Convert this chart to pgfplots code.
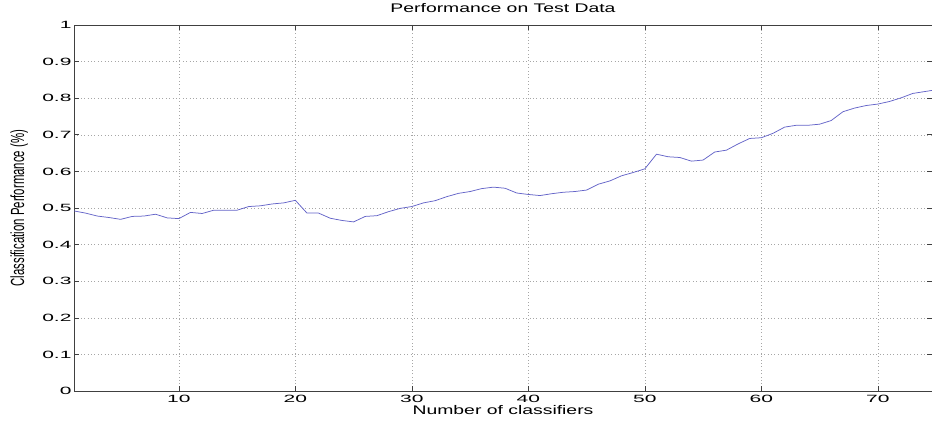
\documentclass[border=0pt]{standalone}
\usepackage{fontspec}
\setmainfont{Liberation Sans}
\newfontfamily\tickfont[FakeStretch=2.0]{Liberation Sans}
\newfontfamily\widefont[FakeStretch=1.55]{Liberation Sans}
\newfontfamily\narrowfont[FakeStretch=0.6]{Liberation Sans}
\usepackage{pgfplots}
\pgfplotsset{compat=1.18}
\definecolor{linecol}{RGB}{100,100,200}
\begin{document}
\begin{tikzpicture}
\begin{axis}[
  scale only axis,
  width=858pt, height=366pt,
  xmin=1, xmax=74.65, ymin=0, ymax=1,
  xtick={10,20,...,70},
  ytick={0,0.1,...,1},
  yticklabels={0,0.1,0.2,0.3,0.4,0.5,0.6,0.7,0.8,0.9,1},
  tick align=inside,
  xtick pos=both, ytick pos=both,
  major tick length=5pt,
  tick style={black!75, line width=0.6pt},
  axis line style={black!75, line width=0.8pt},
  grid=major,
  major grid style={gray!70, line width=0.5pt, dash pattern=on 0.8pt off 2.6pt},
  ticklabel style={font=\tickfont\fontsize{10.5}{12}\selectfont},
  /pgf/number format/assume math mode=true,
  xticklabel style={yshift=-1pt},
  yticklabel style={xshift=1pt},
  title={Performance on Test Data},
  title style={font=\widefont\fontsize{12.5}{14}\selectfont, at={(axis description cs:0.5,1.029)}, anchor=center},
  xlabel={Number of classifiers},
  xlabel style={font=\widefont\fontsize{12.5}{14}\selectfont, at={(axis description cs:0.5,-0.053)}, anchor=center},
  ylabel={Classification Performance (\%)},
  ylabel style={font=\narrowfont\fontsize{19}{21}\selectfont, at={(axis description cs:-0.064,0.5)}, anchor=center},
  clip=true,
]
\addplot[color=linecol, line width=0.75pt, mark=none] coordinates {
(1,0.492) (2,0.486) (3,0.478) (4,0.474) (5,0.469) (6,0.477) (7,0.478) (8,0.483) (9,0.473) (10,0.471)
(11,0.488) (12,0.485) (13,0.494) (14,0.494) (15,0.494) (16,0.504) (17,0.506) (18,0.511) (19,0.514) (20,0.521)
(21,0.486) (22,0.486) (23,0.472) (24,0.466) (25,0.462) (26,0.477) (27,0.479) (28,0.490) (29,0.499) (30,0.504)
(31,0.514) (32,0.520) (33,0.531) (34,0.540) (35,0.545) (36,0.553) (37,0.557) (38,0.554) (39,0.541) (40,0.537)
(41,0.534) (42,0.539) (43,0.543) (44,0.545) (45,0.549) (46,0.565) (47,0.574) (48,0.588) (49,0.597) (50,0.607)
(51,0.647) (52,0.640) (53,0.638) (54,0.628) (55,0.631) (56,0.653) (57,0.658) (58,0.675) (59,0.690) (60,0.692)
(61,0.704) (62,0.721) (63,0.726) (64,0.726) (65,0.729) (66,0.739) (67,0.763) (68,0.773) (69,0.780) (70,0.784)
(71,0.791) (72,0.801) (73,0.813) (74,0.818) (75,0.823)
};
\end{axis}
\pgfresetboundingbox
\path ([shift={(-74pt,-32pt)}]current axis.south west) rectangle ([shift={(0pt,25pt)}]current axis.north east);
\end{tikzpicture}
\end{document}
